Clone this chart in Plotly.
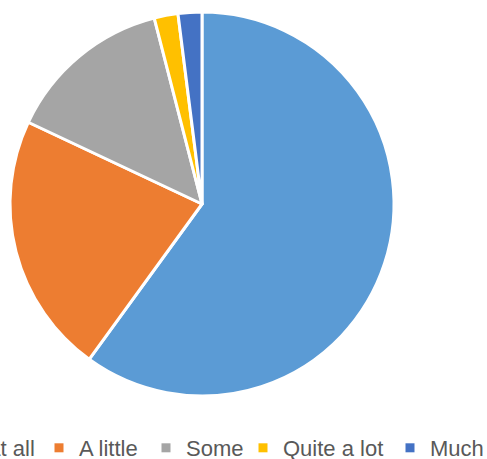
import plotly.graph_objects as go

# Survey answer shares (%)
labels = ["Not at all", "A little", "Some", "Quite a lot", "Much more"]
values = [60, 22, 14, 2, 2]
colors = ["#5B9BD5", "#ED7D31", "#A5A5A5", "#FFC000", "#4472C4"]

W, H = 487, 459

# left edge (px) of each legend entry along the bottom row
legend_left_px = [-92, 39, 146, 243, 390]

fig = go.Figure(
    go.Pie(
        labels=labels,
        values=values,
        sort=False,
        direction="clockwise",
        rotation=0,
        textinfo="none",
        hoverinfo="label+percent",
        showlegend=False,
        marker=dict(colors=colors, line=dict(color="white", width=3)),
        domain=dict(x=[10 / W, 394 / W], y=[63 / H, 447 / H]),
    )
)

# one legend per answer so the row can run past the page edges without wrapping
legend_font = dict(family="Liberation Sans", size=22, color="#595959")
for i, (lab, col) in enumerate(zip(labels, colors)):
    key = "legend" if i == 0 else f"legend{i + 1}"
    fig.add_trace(
        go.Scatter(
            x=[None], y=[None], mode="markers", name=lab,
            marker=dict(symbol="square", size=9, color=col),
            showlegend=True, legend=key, hoverinfo="skip",
        )
    )
    fig.update_layout(
        {key: dict(
            orientation="h",
            x=legend_left_px[i] / W,
            xanchor="left",
            y=11 / H,
            yanchor="middle",
            font=legend_font,
            itemwidth=30,
            bgcolor="rgba(0,0,0,0)",
        )}
    )

fig.update_layout(
    width=W,
    height=H,
    margin=dict(l=0, r=0, t=0, b=0, autoexpand=False),
    paper_bgcolor="white",
    plot_bgcolor="white",
    xaxis=dict(visible=False),
    yaxis=dict(visible=False),
)

fig.write_html("out.html")
